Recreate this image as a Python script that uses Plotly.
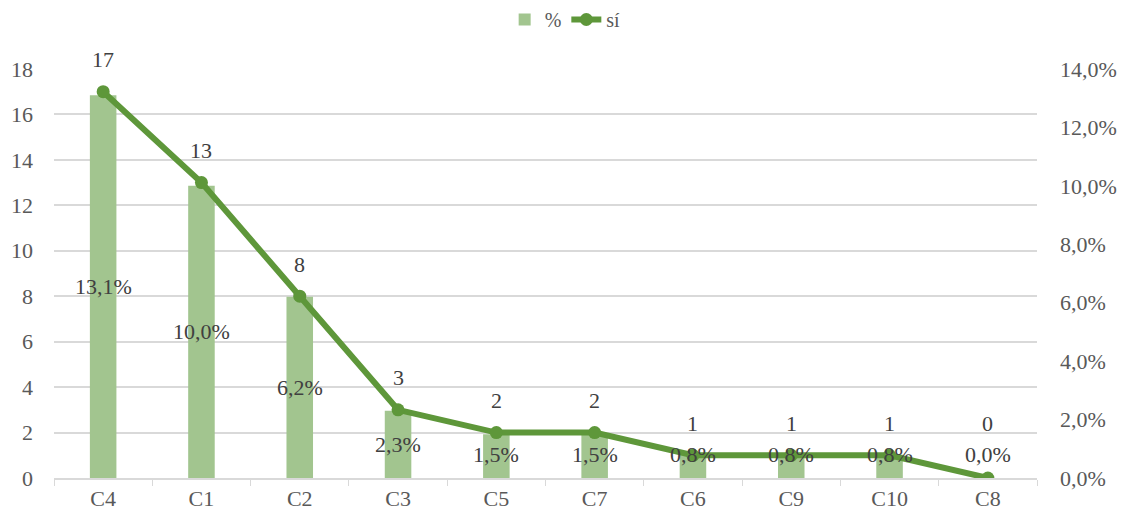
import plotly.graph_objects as go

categories = ["C4", "C1", "C2", "C3", "C5", "C7", "C6", "C9", "C10", "C8"]
si_counts = [17, 13, 8, 3, 2, 2, 1, 1, 1, 0]
pct_values = [13.1, 10.0, 6.2, 2.3, 1.5, 1.5, 0.8, 0.8, 0.8, 0.0]

bar_color = "#A2C58F"
line_color = "#5E973A"
text_color = "#404040"
tick_color = "#595959"
grid_color = "#D9D9D9"
font_family = "Liberation Serif, Times New Roman, serif"
font_size = 22


def pct_text(v):
    return f"{v:.1f}".replace(".", ",") + "%"


fig = go.Figure()

# Percentages as bars on the right-hand axis
fig.add_trace(go.Bar(
    x=categories, y=pct_values, name="%",
    marker=dict(color=bar_color, line=dict(width=0)),
    width=0.27, yaxis="y",
))

# Counts as a line with markers on the left-hand axis
fig.add_trace(go.Scatter(
    x=categories, y=si_counts, name="sí", mode="lines+markers",
    line=dict(color=line_color, width=6),
    marker=dict(color=line_color, size=13),
    yaxis="y2",
))

annotations = []
# Count labels above the line points (lifted off the baseline for zero)
for c, v in zip(categories, si_counts):
    annotations.append(dict(
        x=c, y=max(v, 1), xref="x", yref="y2", text=str(v), showarrow=False,
        yshift=32, font=dict(family=font_family, size=font_size, color=text_color),
    ))
# Percentage labels centred in the bars (kept just above the baseline)
min_label_pos = 0.79
for c, v in zip(categories, pct_values):
    annotations.append(dict(
        x=c, y=max(v / 2, min_label_pos), xref="x", yref="y", text=pct_text(v),
        showarrow=False, font=dict(family=font_family, size=font_size, color=text_color),
    ))

pct_ticks = [0, 2, 4, 6, 8, 10, 12, 14]

fig.update_layout(
    width=1124, height=518,
    margin=dict(l=54, r=87, t=69, b=40),
    paper_bgcolor="white", plot_bgcolor="white",
    font=dict(family=font_family, size=font_size, color=tick_color),
    showlegend=True,
    legend=dict(
        orientation="h", x=0.52, xanchor="center", y=1.0, yanchor="top",
        yref="container", font=dict(size=20, color=tick_color),
        traceorder="normal",
    ),
    xaxis=dict(
        type="category", range=[-0.5, len(categories) - 0.5],
        showline=True, linecolor=grid_color, linewidth=1.5,
        ticks="outside", tickson="boundaries", ticklen=6, tickcolor=grid_color,
        showgrid=False, tickfont=dict(size=font_size, color=tick_color),
        automargin=False,
    ),
    yaxis=dict(
        side="right", range=[0, 14], tickvals=pct_ticks,
        ticktext=[pct_text(t) for t in pct_ticks],
        showgrid=False, zeroline=False, showline=False,
        tickfont=dict(size=font_size, color=tick_color), ticklabelstandoff=22,
        automargin=False,
    ),
    yaxis2=dict(
        overlaying="y", side="left", range=[0, 18], dtick=2,
        showgrid=True, gridcolor=grid_color, gridwidth=1.5,
        zeroline=False, showline=False,
        tickfont=dict(size=font_size, color=tick_color), ticklabelstandoff=20,
        automargin=False,
    ),
    annotations=annotations,
)

# Remove the page's default body margin so the figure sits at the top-left corner
fig.write_html("out.html", post_script="document.body.style.margin='0';")
